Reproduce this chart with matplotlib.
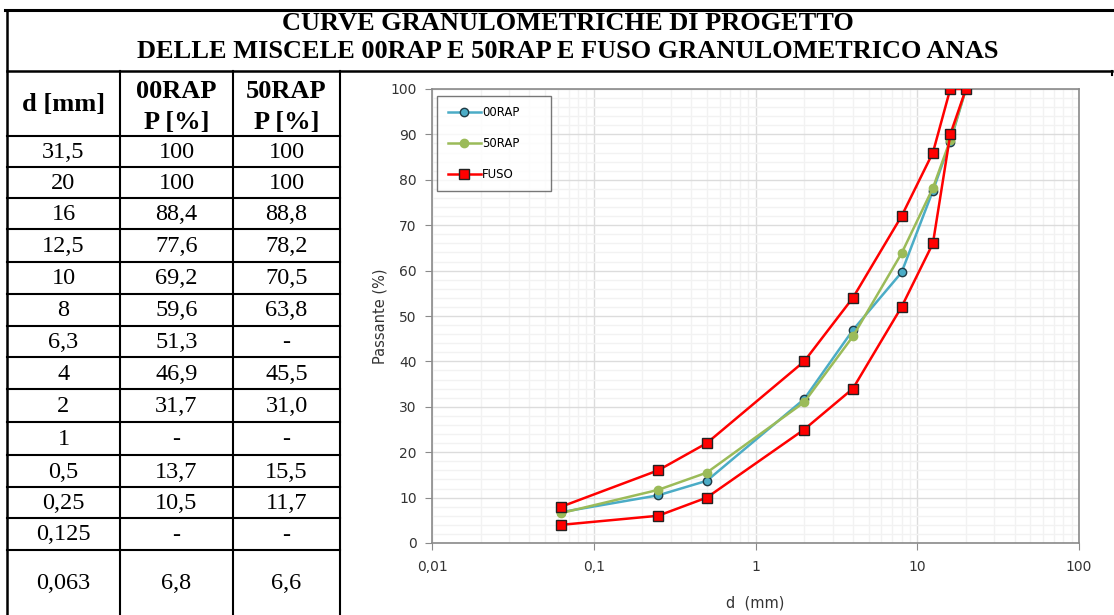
import numpy as np
import matplotlib
matplotlib.use("Agg")
import matplotlib.pyplot as plt
from matplotlib.ticker import FixedLocator, MultipleLocator, FuncFormatter

# table data
d_labels = ["31,5", "20", "16", "12,5", "10", "8", "6,3", "4", "2", "1", "0,5", "0,25", "0,125", "0,063"]
rap00_labels = ["100", "100", "88,4", "77,6", "69,2", "59,6", "51,3", "46,9", "31,7", "-", "13,7", "10,5", "-", "6,8"]
rap50_labels = ["100", "100", "88,8", "78,2", "70,5", "63,8", "-", "45,5", "31,0", "-", "15,5", "11,7", "-", "6,6"]

# plotted curves
d_curve = [0.063, 0.25, 0.5, 2, 4, 8, 12.5, 16, 20]
p_00rap = [6.8, 10.5, 13.7, 31.7, 46.9, 59.6, 77.6, 88.4, 100]
p_50rap = [6.6, 11.7, 15.5, 31.0, 45.5, 63.8, 78.2, 88.8, 100]

# ANAS envelope: lower limit going up, then upper limit coming back
d_fuso = [0.063, 0.25, 0.5, 2, 4, 8, 12.5, 16, 20, 16, 12.5, 8, 4, 2, 0.5, 0.25, 0.063]
p_fuso = [4, 6, 10, 25, 34, 52, 66, 90, 100, 100, 86, 72, 54, 40, 22, 16, 8]

W, H = 1114, 615
fig = plt.figure(figsize=(W / 100, H / 100), dpi=100)

# background layer in pixel coordinates for the title box and the table
bg = fig.add_axes([0, 0, 1, 1])
bg.set_xlim(0, W)
bg.set_ylim(H, 0)
bg.axis("off")

serif = "Liberation Serif"
bg.plot([5, W], [10, 10], color="black", lw=2.2)
bg.plot([7, 7], [10, H], color="black", lw=1.8)
bg.plot([7, W - 2], [71, 71], color="black", lw=1.8)
bg.plot([W - 2, W - 2], [71, 75], color="black", lw=1.5)
bg.text(568, 23, "CURVE GRANULOMETRICHE DI PROGETTO", ha="center", va="center",
        family=serif, weight="bold", fontsize=19)
bg.text(568, 52, "DELLE MISCELE 00RAP E 50RAP E FUSO GRANULOMETRICO ANAS", ha="center",
        va="center", family=serif, weight="bold", fontsize=19)

col_x = [7, 120, 233, 340]
row_y = [71, 136, 167, 198, 229, 262, 294, 326, 357, 389, 422, 455, 487, 518, 550, H]
for x in col_x[1:]:
    bg.plot([x, x], [71, H], color="black", lw=1.5)
for y in row_y[1:-1]:
    bg.plot([7, 340], [y, y], color="black", lw=1.5)

centers = [(col_x[i] + col_x[i + 1]) / 2 for i in range(3)]
bg.text(centers[0], 104, "d [mm]", ha="center", va="center", family=serif, weight="bold", fontsize=19)
for cx, name in zip(centers[1:], ["00RAP", "50RAP"]):
    bg.text(cx, 91, name, ha="center", va="center", family=serif, weight="bold", fontsize=19)
    bg.text(cx, 122, "P [%]", ha="center", va="center", family=serif, weight="bold", fontsize=19)

for i, (a, b, c) in enumerate(zip(d_labels, rap00_labels, rap50_labels)):
    yc = (row_y[i + 1] + row_y[i + 2]) / 2 + 1
    for cx, s in zip(centers, [a, b, c]):
        bg.text(cx, yc, s, ha="center", va="center", family=serif, fontsize=17.5)

# chart
ax = fig.add_axes([432 / W, (H - 543) / H, 647 / W, 454 / H])
ax.set_xscale("log")
ax.set_xlim(0.01, 100)
ax.set_ylim(0, 100)

ax.plot(d_curve, p_00rap, color="#4bacc6", lw=1.8, marker="o", ms=6,
        mfc="#4bacc6", mec="#1f3a44", mew=1, label="00RAP", zorder=3)
ax.plot(d_curve, p_50rap, color="#9bbb59", lw=1.8, marker="o", ms=6,
        mfc="#9bbb59", mec="#9bbb59", label="50RAP", zorder=4)
ax.plot(d_fuso, p_fuso, color="#ff0000", lw=1.8, marker="s", ms=6.5,
        mfc="#ff0000", mec="#222222", mew=1, label="FUSO", zorder=5)

minor_x = [m * 10.0 ** e for e in range(-2, 2) for m in range(2, 10)]
ax.xaxis.set_major_locator(FixedLocator([0.01, 0.1, 1, 10, 100]))
ax.xaxis.set_minor_locator(FixedLocator(minor_x))
ax.xaxis.set_major_formatter(FuncFormatter(lambda v, p: ("%g" % v).replace(".", ",")))
ax.yaxis.set_major_locator(MultipleLocator(10))
ax.yaxis.set_minor_locator(MultipleLocator(2))

ax.grid(which="major", color="#dcdcdc", lw=1)
ax.grid(which="minor", color="#f2f2f2", lw=1)
ax.set_axisbelow(True)
for s in ax.spines.values():
    s.set_color("#8a8a8a")
    s.set_linewidth(1.2)
ax.tick_params(which="major", direction="out", length=5, color="#8a8a8a",
               labelsize=10, labelcolor="#333333", pad=6)
ax.tick_params(which="minor", length=0)
ax.tick_params(axis="x", pad=7)

ax.set_xlabel("d  (mm)", fontsize=10.5, color="#333333", labelpad=16)
ax.set_ylabel("Passante (%)", fontsize=10.5, color="#333333", labelpad=2)

leg = ax.legend(loc="upper left", bbox_to_anchor=(0.008, 0.985, 114 / 647, 0.0),
                mode="expand", borderaxespad=0, fontsize=8.5, frameon=True,
                fancybox=False, edgecolor="#555555", labelspacing=1.5,
                handlelength=2.8, handletextpad=0.1, borderpad=0.9)
leg.get_frame().set_linewidth(1)

fig.savefig("out.png", dpi=100)
